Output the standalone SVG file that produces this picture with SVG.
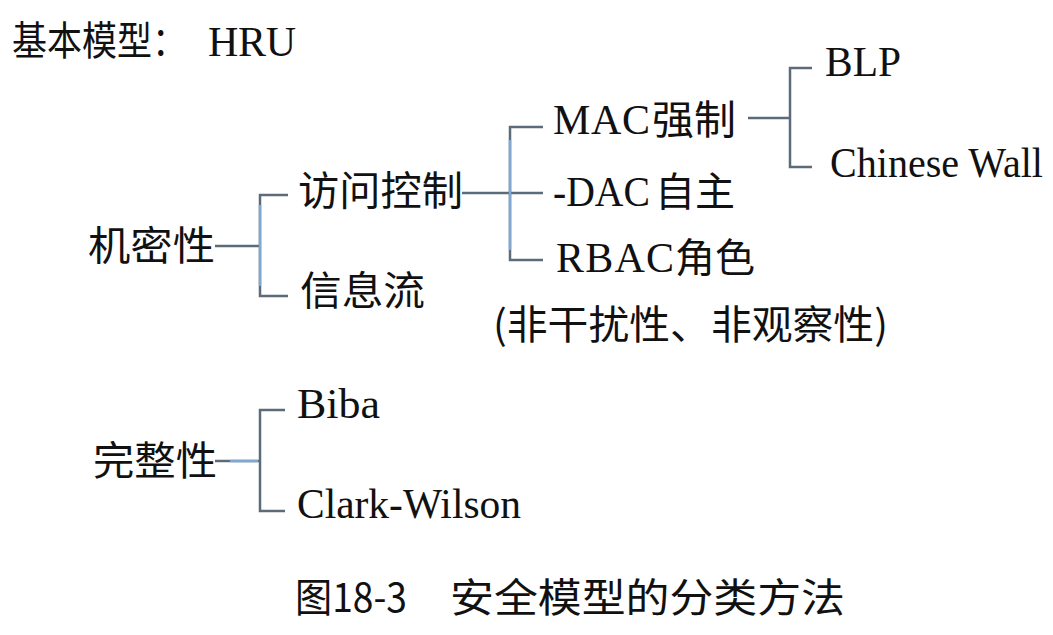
<svg xmlns="http://www.w3.org/2000/svg" width="1053" height="635" viewBox="0 0 1053 635">
<style>
.cn{font-family:"Noto Sans CJK SC","Liberation Serif",serif;font-size:40px;fill:#111}
.en{font-family:"Liberation Serif","Noto Sans CJK SC",serif;font-size:42px;fill:#111}
.ln{fill:none;stroke:#5b6b7a;stroke-width:2.5}
.lb{fill:none;stroke:#7fa9d2;stroke-width:2.5}
</style>
<rect width="1053" height="635" fill="#fff"/>
<g id="title"><text class="cn" x="12" y="55" textLength="175" lengthAdjust="spacingAndGlyphs">基本模型：</text><text class="en" x="208" y="56" textLength="88" lengthAdjust="spacing">HRU</text></g>
<g id="connectors">
<path class="ln" d="M215 246H260M288 195H260V296H288"/>
<path class="lb" d="M260 205V286"/>
<path class="ln" d="M462 193H543M543 127H510V260H543"/>
<path class="lb" d="M510 140V250"/>
<path class="ln" d="M748 118H790M812 68H790V167H812"/>
<path class="ln" d="M215 461H260M285 410H260V511H285"/>
<path class="lb" d="M230 461H258"/>
</g>
<g id="n-jimi"><text class="cn" x="88" y="260" textLength="127" lengthAdjust="spacingAndGlyphs">机密性</text></g>
<g id="n-fangwen"><text class="cn" x="298" y="205" textLength="165" lengthAdjust="spacingAndGlyphs">访问控制</text></g>
<g id="n-xinxi"><text class="cn" x="300" y="305" textLength="125" lengthAdjust="spacingAndGlyphs">信息流</text></g>
<g id="n-mac"><text class="en" x="553" y="134" textLength="97" lengthAdjust="spacing">MAC</text><text class="cn" x="652" y="134" textLength="84" lengthAdjust="spacingAndGlyphs">强制</text></g>
<g id="n-dac"><text class="en" x="553" y="206" textLength="97" lengthAdjust="spacingAndGlyphs">-DAC</text><text class="cn" x="655" y="206" textLength="80" lengthAdjust="spacingAndGlyphs">自主</text></g>
<g id="n-rbac"><text class="en" x="556" y="272" textLength="118" lengthAdjust="spacing">RBAC</text><text class="cn" x="675" y="272" textLength="80" lengthAdjust="spacingAndGlyphs">角色</text></g>
<g id="n-note"><text class="cn" x="493" y="339" textLength="395" lengthAdjust="spacingAndGlyphs">(非干扰性、非观察性)</text></g>
<g id="n-blp"><text class="en" x="825" y="76" font-size="44" textLength="76" lengthAdjust="spacingAndGlyphs">BLP</text></g>
<g id="n-chinese"><text class="en" x="830" y="177" font-size="44" textLength="213" lengthAdjust="spacingAndGlyphs">Chinese Wall</text></g>
<g id="n-wanzheng"><text class="cn" x="93" y="475" textLength="124" lengthAdjust="spacingAndGlyphs">完整性</text></g>
<g id="n-biba"><text class="en" x="297" y="418" textLength="83" lengthAdjust="spacingAndGlyphs">Biba</text></g>
<g id="n-clark"><text class="en" x="297" y="518" textLength="224" lengthAdjust="spacingAndGlyphs">Clark-Wilson</text></g>
<g id="caption"><text class="cn" x="295" y="612" textLength="112" lengthAdjust="spacingAndGlyphs">图18-3</text><text class="cn" x="450" y="612" textLength="395" lengthAdjust="spacingAndGlyphs">安全模型的分类方法</text></g>
</svg>
